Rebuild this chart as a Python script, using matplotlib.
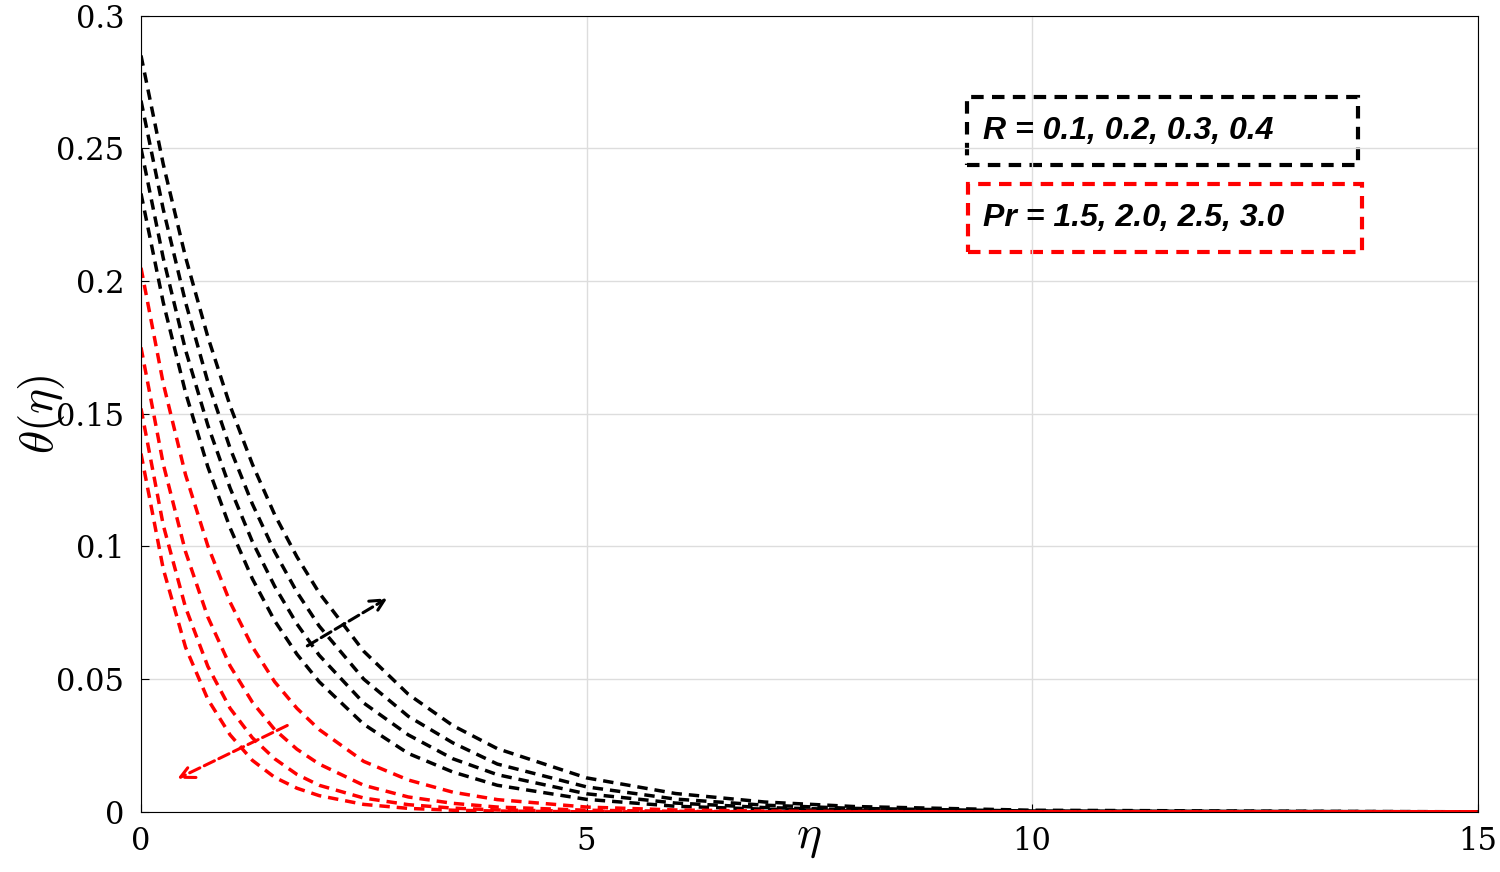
import matplotlib
matplotlib.use("Agg")
import matplotlib.pyplot as plt
from matplotlib.patches import Rectangle

plt.rcParams['mathtext.fontset'] = 'cm'
plt.rcParams['font.family'] = 'DejaVu Serif'

eta = [0, 0.25, 0.5, 0.75, 1, 1.25, 1.5, 1.75, 2, 2.5, 3, 3.5, 4, 5, 6, 7, 8, 10, 15]
black = [
    [0.285, 0.244, 0.209, 0.179, 0.153, 0.131, 0.112, 0.0961, 0.0825, 0.0605, 0.0443, 0.0325, 0.0238, 0.0128, 0.0069, 0.0037, 0.002, 0.0006, 0],
    [0.268, 0.227, 0.192, 0.162, 0.137, 0.116, 0.098, 0.0828, 0.070, 0.050, 0.036, 0.026, 0.018, 0.0094, 0.0048, 0.0025, 0.0013, 0.0003, 0],
    [0.250, 0.2086, 0.174, 0.1457, 0.122, 0.1018, 0.085, 0.0708, 0.059, 0.041, 0.029, 0.020, 0.014, 0.0068, 0.0033, 0.0016, 0.0008, 0.0002, 0],
    [0.233, 0.1919, 0.158, 0.130, 0.107, 0.0878, 0.072, 0.0594, 0.049, 0.033, 0.022, 0.015, 0.010, 0.0047, 0.0021, 0.0010, 0.0004, 0.0001, 0],
]
red = [
    [0.205, 0.1614, 0.127, 0.1002, 0.079, 0.0622, 0.049, 0.039, 0.031, 0.019, 0.012, 0.0074, 0.0046, 0.0018, 0.0007, 0.0003, 0.0001, 0, 0],
    [0.175, 0.131, 0.098, 0.0734, 0.055, 0.0413, 0.031, 0.0236, 0.018, 0.010, 0.0056, 0.0032, 0.0018, 0.0006, 0.0002, 0, 0, 0, 0],
    [0.152, 0.108, 0.077, 0.0548, 0.039, 0.0279, 0.020, 0.0141, 0.010, 0.0052, 0.0027, 0.0014, 0.0007, 0.0002, 0, 0, 0, 0, 0],
    [0.135, 0.0915, 0.062, 0.0424, 0.029, 0.0194, 0.013, 0.0089, 0.0061, 0.0028, 0.0013, 0.0006, 0.0003, 0, 0, 0, 0, 0, 0],
]
xticks = [0, 5, 10, 15]
yticks = [0, 0.05, 0.1, 0.15, 0.2, 0.25, 0.3]

fig = plt.figure(figsize=(15, 8.72), dpi=100)
ax = fig.add_axes([0.094, 0.069, 0.891, 0.913])
for s in black:
    ax.plot(eta, s, color='black', ls=(0, (3, 2)), lw=2.5)
for s in red:
    ax.plot(eta, s, color='red', ls=(0, (3, 2)), lw=2.5)
ax.set_xlim(0, 15)
ax.set_ylim(0, 0.3)
ax.set_xticks(xticks)
ax.set_xticklabels(['0', '5', '10', '15'])
ax.set_yticks(yticks)
ax.set_yticklabels(['0', '0.05', '0.1', '0.15', '0.2', '0.25', '0.3'])
ax.tick_params(labelsize=22, direction='in', length=6)
ax.tick_params(axis='y', pad=12)
ax.tick_params(axis='x', pad=10)
ax.grid(True, color='#dddddd', lw=1)
ax.set_xlabel(r'$\boldsymbol{\eta}$' if False else r'$\eta$', fontsize=34, labelpad=-30)
ax.set_ylabel(r'$\theta(\eta)$', fontsize=34, labelpad=-8)

ax.annotate('', xy=(2.79, 0.081), xytext=(1.84, 0.062),
            arrowprops=dict(arrowstyle='->', color='black', lw=2.2, ls='--', mutation_scale=25))
ax.annotate('', xy=(0.38, 0.012), xytext=(1.67, 0.033),
            arrowprops=dict(arrowstyle='->', color='red', lw=2.2, ls='--', mutation_scale=25))

def px(x, y):
    return ((x - 141) / 1336, (812 - y) / 796)

for (x0, y0, x1, y1, c, t) in [(967, 97, 1358, 165, 'black', 'R = 0.1, 0.2, 0.3, 0.4'),
                               (968, 184, 1362, 252, 'red', 'Pr = 1.5, 2.0, 2.5, 3.0')]:
    a0 = px(x0, y1); a1 = px(x1, y0)
    ax.add_patch(Rectangle(a0, a1[0] - a0[0], a1[1] - a0[1], transform=ax.transAxes,
                           fill=False, ec=c, lw=3, ls=(0, (3, 2))))
    tx = px(983, (y0 + y1) / 2)
    ax.text(tx[0], tx[1], t, transform=ax.transAxes, fontsize=23, fontweight='bold',
            fontstyle='italic', family='Liberation Sans', va='center', ha='left')

fig.savefig('out.png', dpi=100)
